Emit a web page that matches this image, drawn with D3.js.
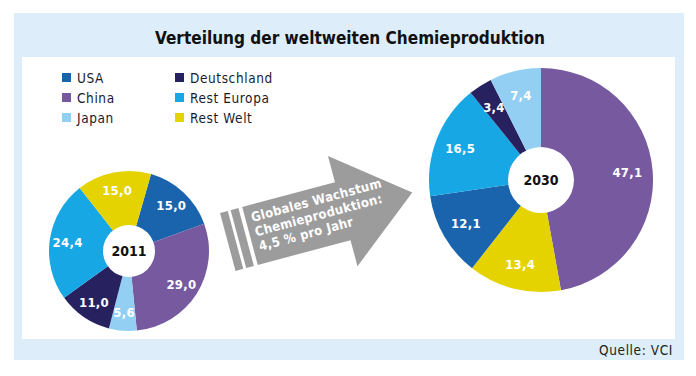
<!DOCTYPE html>
<html>
<head>
<meta charset="utf-8">
<script src="https://cdn.jsdelivr.net/npm/d3@7"></script>
<style>
  body { margin: 0; background: #fff; }
  svg { display: block; }
  text { font-family: "DejaVu Sans Condensed", "DejaVu Sans", sans-serif; }
</style>
</head>
<body>
<svg id="chart" width="696" height="376"></svg>
<script>
const categories = ['USA', 'China', 'Japan', 'Deutschland', 'Rest Europa', 'Rest Welt']
const colors = ['#1a64ae', '#76599f', '#92cff2', '#27215f', '#17a7e4', '#e5d300']
// Anteile in %, gleiche Reihenfolge wie categories
const values2011 = [15.0, 29.0, 5.6, 11.0, 24.4, 15.0]
const values2030 = [12.1, 47.1, 7.4, 3.4, 16.5, 13.4]
// Reihenfolge der Segmente im Uhrzeigersinn
const order2011 = ['USA', 'China', 'Japan', 'Deutschland', 'Rest Europa', 'Rest Welt']
const order2030 = ['China', 'Rest Welt', 'USA', 'Rest Europa', 'Deutschland', 'Japan']
const arrowLines = ['Globales Wachstum', 'Chemieproduktion:', '4,5 % pro Jahr']

const width = 696
const height = 376
const svg = d3.select('#chart')

const color = d3.scaleOrdinal().domain(categories).range(colors)
const fmt = d3.formatLocale({ decimal: ',', thousands: '.', grouping: [3], currency: ['', ' €'] }).format('.1f')

// Rahmen
svg.append('rect').attr('x', 14).attr('y', 13).attr('width', 670).attr('height', 347).attr('fill', '#ddedf9')
svg.append('rect').attr('x', 22).attr('y', 57).attr('width', 653).attr('height', 282).attr('fill', '#fff')

svg.append('text')
  .attr('x', 350).attr('y', 44)
  .attr('text-anchor', 'middle')
  .attr('font-size', 18).attr('font-weight', 'bold')
  .attr('fill', '#111')
  .attr('textLength', 390).attr('lengthAdjust', 'spacingAndGlyphs')
  .text('Verteilung der weltweiten Chemieproduktion')

svg.append('text')
  .attr('x', 673).attr('y', 355)
  .attr('text-anchor', 'end')
  .attr('font-size', 13.5)
  .attr('letter-spacing', 0.6)
  .attr('fill', '#222')
  .text('Quelle: VCI')

// Legende
const legend = svg.append('g')
const legendItems = legend.selectAll('g')
  .data(categories)
  .join('g')
  .attr('transform', (d, i) => `translate(${i < 3 ? 62 : 175},${73 + (i % 3) * 20})`)
legendItems.append('rect').attr('width', 9).attr('height', 9).attr('fill', (d) => color(d))
legendItems.append('text')
  .attr('x', 15).attr('y', 9.5)
  .attr('font-size', 13.5)
  .attr('letter-spacing', 0.6)
  .attr('fill', '#1a1a2a')
  .text((d) => d)

// Pfeil
const arrow = svg.append('g').attr('transform', 'translate(250,236) rotate(-15)')
const gray = '#9c9c9c'
arrow.append('path')
  .attr('d', d3.line()([[0, -30], [96, -30], [96, -57], [168, 0], [96, 57], [96, 30], [0, 30]]) + 'Z')
  .attr('fill', gray)
arrow.append('rect').attr('x', -12).attr('y', -30).attr('width', 8).attr('height', 60).attr('fill', gray)
arrow.append('rect').attr('x', -23).attr('y', -30).attr('width', 8).attr('height', 60).attr('fill', gray)
arrow.selectAll('text.al')
  .data(arrowLines)
  .join('text')
  .attr('class', 'al')
  .attr('x', 6)
  .attr('y', (d, i) => -13 + i * 15)
  .attr('font-size', 13).attr('font-weight', 'bold')
  .attr('letter-spacing', 0.3)
  .attr('fill', '#fff')
  .text((d) => d)

const drawPie = (cx, cy, r, r0, year, order, values, start) => {
  const data = order.map((name) => ({ name, value: values[categories.indexOf(name)] }))
  const pie = d3.pie().sort(null).value((d) => d.value)
    .startAngle(start).endAngle(start + 2 * Math.PI)
  const arcs = pie(data)
  const arc = d3.arc().innerRadius(0).outerRadius(r)
  const labelArc = d3.arc().innerRadius(r * 0.55).outerRadius(r)
  const g = svg.append('g').attr('transform', `translate(${cx},${cy})`)
  g.selectAll('path')
    .data(arcs)
    .join('path')
    .attr('d', arc)
    .attr('fill', (d) => color(d.data.name))
  g.selectAll('text.v')
    .data(arcs)
    .join('text')
    .attr('class', 'v')
    .attr('transform', (d) => `translate(${labelArc.centroid(d)})`)
    .attr('text-anchor', 'middle')
    .attr('dy', '0.36em')
    .attr('font-size', 13).attr('font-weight', 'bold')
    .attr('letter-spacing', 0.3)
    .attr('fill', '#fff')
    .text((d) => fmt(d.data.value))
  g.append('circle').attr('r', r0).attr('fill', '#fff')
  g.append('text')
    .attr('text-anchor', 'middle')
    .attr('dy', '0.36em')
    .attr('font-size', 14).attr('font-weight', 'bold')
    .attr('fill', '#111')
    .text(year)
}

drawPie(129, 251, 80, 26, '2011', order2011, values2011, 16 * Math.PI / 180)
drawPie(541, 180, 112, 33, '2030', order2030, values2030, 0)
</script>
</body>
</html>
